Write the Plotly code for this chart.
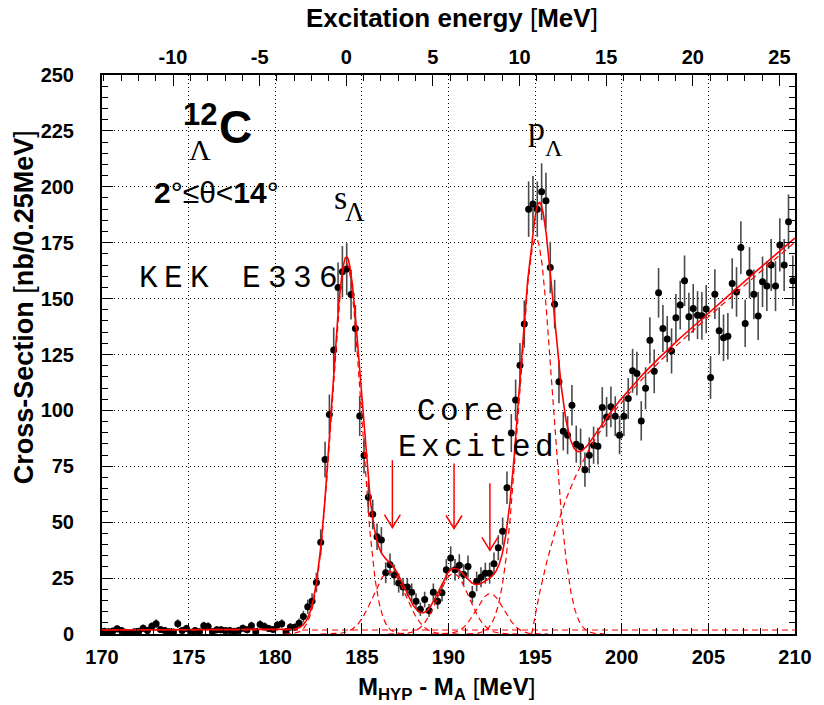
import numpy as np
import plotly.graph_objects as go

# ---------------- data ----------------
BIN_CENTERS = [
    170.125, 170.375, 170.625, 170.875, 171.125, 171.375, 171.625, 171.875,
    172.125, 172.375, 172.625, 172.875, 173.125, 173.375, 173.625, 173.875,
    174.125, 174.375, 174.625, 174.875, 175.125, 175.375, 175.625, 175.875,
    176.125, 176.375, 176.625, 176.875, 177.125, 177.375, 177.625, 177.875,
    178.125, 178.375, 178.625, 178.875, 179.125, 179.375, 179.625, 179.875,
    180.125, 180.375, 180.625, 180.875, 181.125, 181.375, 181.625, 181.875,
    182.125, 182.375, 182.625, 182.875, 183.125, 183.375, 183.625, 183.875,
    184.125, 184.375, 184.625, 184.875, 185.125, 185.375, 185.625, 185.875,
    186.125, 186.375, 186.625, 186.875, 187.125, 187.375, 187.625, 187.875,
    188.125, 188.375, 188.625, 188.875, 189.125, 189.375, 189.625, 189.875,
    190.125, 190.375, 190.625, 190.875, 191.125, 191.375, 191.625, 191.875,
    192.125, 192.375, 192.625, 192.875, 193.125, 193.375, 193.625, 193.875,
    194.125, 194.375, 194.625, 194.875, 195.125, 195.375, 195.625, 195.875,
    196.125, 196.375, 196.625, 196.875, 197.125, 197.375, 197.625, 197.875,
    198.125, 198.375, 198.625, 198.875, 199.125, 199.375, 199.625, 199.875,
    200.125, 200.375, 200.625, 200.875, 201.125, 201.375, 201.625, 201.875,
    202.125, 202.375, 202.625, 202.875, 203.125, 203.375, 203.625, 203.875,
    204.125, 204.375, 204.625, 204.875, 205.125, 205.375, 205.625, 205.875,
    206.125, 206.375, 206.625, 206.875, 207.125, 207.375, 207.625, 207.875,
    208.125, 208.375, 208.625, 208.875, 209.125, 209.375, 209.625, 209.875,
]
CROSS_SECTION = [
    1.2, 1.0, 1.3, 2.3, 1.6, 0.8, 0.5, 1.0,
    1.2, 2.6, 1.6, 3.5, 4.6, 2.0, 1.6, 1.0,
    0.9, 4.6, 1.6, 2.5, 0.8, 1.6, 1.0, 3.7,
    3.4, 1.0, 1.9, 1.9, 1.6, 1.6, 1.2, 1.6,
    2.6, 1.9, 3.7, 1.0, 4.3, 3.4, 2.5, 2.0,
    4.0, 4.6, 1.0, 3.1, 3.0, 4.8, 7.8, 12.2,
    14.7, 23.0, 41.0, 78.0, 98.2, 127.0, 155.0, 162.0,
    163.2, 151.8, 136.6, 97.5, 79.8, 61.2, 53.5, 43.5,
    42.0, 27.4, 31.0, 26.4, 22.8, 21.0, 21.0, 18.7,
    14.7, 11.1, 15.4, 10.5, 18.7, 14.6, 18.4, 28.7,
    34.0, 28.7, 30.7, 26.6, 30.2, 17.7, 23.5, 25.4,
    27.2, 27.2, 31.4, 38.6, 46.0, 65.4, 89.9, 104.6,
    120.2, 138.6, 190.0, 192.3, 190.0, 197.8, 193.8, 163.9,
    147.5, 112.8, 90.7, 88.9, 102.3, 84.9, 83.7, 73.5,
    79.9, 84.4, 84.0, 101.3, 97.1, 101.6, 97.4, 88.9,
    97.4, 105.3, 117.7, 116.5, 95.3, 109.9, 131.4, 117.5,
    152.6, 136.6, 131.9, 126.6, 141.4, 147.1, 158.0, 141.9,
    145.6, 142.6, 142.3, 145.3, 114.7, 152.0, 135.6, 132.5,
    133.2, 156.8, 153.0, 172.8, 138.9, 161.6, 151.9, 142.2,
    157.5, 155.6, 165.0, 155.6, 174.0, 165.0, 184.4, 158.0,
]
ERRORS = [
    1.5, 1.5, 1.5, 1.6, 1.5, 1.4, 1.3, 1.5,
    1.5, 1.6, 1.5, 1.8, 2.0, 1.5, 1.5, 1.5,
    1.4, 2.0, 1.5, 1.6, 1.4, 1.5, 1.5, 1.8,
    1.8, 1.5, 1.6, 1.6, 1.5, 1.5, 1.5, 1.5,
    1.6, 1.6, 1.8, 1.5, 1.9, 1.8, 1.6, 1.6,
    1.9, 2.0, 1.5, 1.7, 1.7, 2.1, 2.6, 3.2,
    3.5, 4.4, 5.8, 8.0, 8.9, 10.1, 11.2, 11.5,
    11.6, 11.1, 10.5, 8.9, 8.0, 7.0, 6.6, 5.9,
    5.8, 4.7, 5.0, 4.6, 4.3, 4.1, 4.1, 3.9,
    3.5, 3.0, 3.5, 2.9, 3.9, 3.4, 3.9, 4.8,
    5.2, 4.8, 5.0, 4.6, 4.9, 3.8, 4.4, 4.5,
    4.7, 4.7, 5.0, 5.6, 6.1, 7.3, 8.5, 9.2,
    9.9, 10.6, 12.4, 12.5, 12.4, 12.7, 12.5, 11.5,
    10.9, 9.6, 8.6, 8.5, 9.1, 8.3, 8.2, 7.7,
    8.0, 8.3, 8.2, 9.1, 8.9, 9.1, 8.9, 8.5,
    8.9, 9.2, 9.8, 9.7, 8.8, 9.4, 10.3, 9.8,
    11.1, 10.5, 10.3, 10.1, 10.7, 10.9, 11.3, 10.7,
    10.9, 10.7, 10.7, 10.8, 9.6, 11.1, 10.5, 10.4,
    10.4, 11.3, 11.1, 11.8, 10.6, 11.4, 11.1, 10.7,
    11.3, 11.2, 11.6, 11.2, 11.9, 11.6, 12.2, 11.3,
]

# fit components
PEAK_MU = [184.10, 186.60, 190.28, 192.40, 195.05]
PEAK_SIGMA = [0.85, 0.95, 0.90, 0.80, 0.95]
PEAK_AMP = [166.0, 28.0, 27.0, 18.0, 177.0]
BASELINE = 1.8
QF_START, QF_STEP, QF_TAU, QF_SLOPE = 194.8, 75.0, 2.0, 6.6

# axis ticks
X_RANGE = [170, 210]
Y_RANGE = [0, 250]
X_TICKS = [170, 175, 180, 185, 190, 195, 200, 205, 210]
Y_TICKS = [0, 25, 50, 75, 100, 125, 150, 175, 200, 225, 250]
EXC_OFFSET = 184.1
TOP_TICKS = [-10, -5, 0, 5, 10, 15, 20, 25]
TOP_LABELS = ["-10", "-5", "0", "5", "10", "15", "20", "25"]

# arrows marking core-excited states
ARROW_X = [186.76, 190.32, 192.39]
ARROW_TOP = [77.7, 76.3, 67.4]
ARROW_TIP = [47.6, 47.2, 37.4]

RED = "#ff0000"
FONT = "Liberation Sans"
SERIF = "Liberation Serif"
MONO = "Liberation Mono"

fig = go.Figure()

# data with error bars
fig.add_trace(go.Scatter(
    x=BIN_CENTERS, y=CROSS_SECTION, mode="markers",
    marker=dict(color="black", size=7),
    error_y=dict(type="data", array=ERRORS, color="#4a4a4a", thickness=1.6, width=0),
    showlegend=False, hoverinfo="skip"))

# fit curves
xf = np.linspace(X_RANGE[0], X_RANGE[1], 4001)


def gauss(x, mu, s, a):
    return a * np.exp(-0.5 * ((x - mu) / s) ** 2)


def qf(x):
    d = np.clip(x - QF_START, 0, None)
    return QF_STEP * (1 - np.exp(-d / QF_TAU)) + QF_SLOPE * d


dash = "6px,4px"
for mu, s, a in zip(PEAK_MU, PEAK_SIGMA, PEAK_AMP):
    m = (xf > mu - 4.2 * s) & (xf < mu + 4.2 * s)
    fig.add_trace(go.Scatter(x=xf[m], y=gauss(xf[m], mu, s, a), mode="lines",
                             line=dict(color=RED, width=1.2, dash=dash),
                             showlegend=False, hoverinfo="skip"))
mq = xf >= QF_START
fig.add_trace(go.Scatter(x=xf[mq], y=qf(xf[mq]), mode="lines",
                         line=dict(color=RED, width=1.2, dash=dash),
                         showlegend=False, hoverinfo="skip"))
fig.add_trace(go.Scatter(x=[X_RANGE[0], X_RANGE[1]], y=[BASELINE, BASELINE], mode="lines",
                         line=dict(color=RED, width=1.2, dash=dash),
                         showlegend=False, hoverinfo="skip"))

total = BASELINE + qf(xf)
for mu, s, a in zip(PEAK_MU, PEAK_SIGMA, PEAK_AMP):
    total = total + gauss(xf, mu, s, a)
fig.add_trace(go.Scatter(x=xf, y=total, mode="lines",
                         line=dict(color=RED, width=1.6),
                         showlegend=False, hoverinfo="skip"))

# dummy trace for the top axis
fig.add_trace(go.Scatter(x=[TOP_TICKS[0]], y=[None], xaxis="x2", mode="markers",
                         showlegend=False, hoverinfo="skip"))

# arrows
shapes = []
for xa, yt, yb in zip(ARROW_X, ARROW_TOP, ARROW_TIP):
    shapes.append(dict(type="line", xref="x", yref="y", x0=xa, x1=xa, y0=yt, y1=yb,
                       line=dict(color=RED, width=1.5)))
    shapes.append(dict(type="path", xref="x", yref="y",
                       path=f"M {xa-0.46},{yb+5.8} L {xa},{yb} L {xa+0.46},{yb+5.8}",
                       line=dict(color=RED, width=1.5)))

ann = []


def add_text(x, y, text, size, family=FONT, xref="x", yref="y", angle=0):
    ann.append(dict(x=x, y=y, xref=xref, yref=yref, text=text, showarrow=False,
                    textangle=angle, xanchor="center", yanchor="middle",
                    font=dict(family=family, size=size, color="black")))


# labels
add_text(175.63, 232.2, "<b>12</b>", 31)
add_text(177.73, 226.6, "<b>C</b>", 46)
add_text(175.63, 216.5, "Λ", 30, family=SERIF)
add_text(176.63, 197.5, "<b>2</b>°≤θ&lt;<b>14</b>°", 30)
add_text(183.75, 195.2, "s", 34, family=SERIF)
add_text(184.58, 188.8, "Λ", 27, family=SERIF)
add_text(195.07, 226.0, "p", 34, family=SERIF)
add_text(196.1, 217.4, "Λ", 24, family=SERIF)

KEK_TEXT, KEK_X0, KEK_PITCH, KEK_Y = "KEK E336", 172.66, 1.49, 159.2
CORE_TEXT, CORE_X0, CORE_Y = "Core", 188.71, 99.6
EXC_TEXT, EXC_X0, EXC_Y = "Excited", 187.62, 83.6
MONO_PITCH = 1.32
for i, ch in enumerate(KEK_TEXT):
    if ch != " ":
        add_text(KEK_X0 + i * KEK_PITCH, KEK_Y, ch, 31, family=MONO)
for i, ch in enumerate(CORE_TEXT):
    add_text(CORE_X0 + i * MONO_PITCH, CORE_Y, ch, 31, family=MONO)
for i, ch in enumerate(EXC_TEXT):
    add_text(EXC_X0 + i * MONO_PITCH, EXC_Y, ch, 31, family=MONO)

# axis titles
add_text(0.505, 1.102, "<b>Excitation energy </b>[<b>MeV</b>]", 26, xref="paper", yref="paper")
add_text(0.497, -0.098, "<b>M<sub>HYP</sub> - M<sub>A</sub> </b>[<b>MeV</b>]", 24,
         xref="paper", yref="paper")
add_text(-0.112, 0.585, "<b>Cross-Section </b>[<b>nb/0.25MeV</b>]", 27,
         xref="paper", yref="paper", angle=-90)

tickfont = dict(family=FONT, size=20, color="black")
grid = dict(showgrid=True, gridcolor="black", gridwidth=1, griddash="1px,3px")


def bold(vals):
    return [f"<b>{v}</b>" for v in vals]


fig.update_layout(
    width=824, height=705,
    margin=dict(l=102, r=25, t=75, b=71),
    paper_bgcolor="white", plot_bgcolor="white",
    shapes=shapes, annotations=ann,
    xaxis=dict(range=X_RANGE, tickvals=X_TICKS, ticktext=bold(X_TICKS),
               ticks="inside", ticklen=11,
               tickwidth=1, tickcolor="black", showline=True, linecolor="black",
               linewidth=2, mirror=True, zeroline=False, tickfont=tickfont,
               ticklabelstandoff=4,
               minor=dict(dtick=1, ticks="inside", ticklen=6, tickcolor="black"),
               **grid),
    xaxis2=dict(range=[X_RANGE[0] - EXC_OFFSET, X_RANGE[1] - EXC_OFFSET],
                overlaying="x", side="top", anchor="y",
                tickvals=TOP_TICKS, ticktext=bold(TOP_LABELS), ticks="inside", ticklen=11,
                tickcolor="black", showgrid=False, zeroline=False, tickfont=tickfont,
                ticklabelstandoff=6,
                minor=dict(dtick=1, ticks="inside", ticklen=6, tickcolor="black")),
    yaxis=dict(range=Y_RANGE, tickvals=Y_TICKS, ticktext=bold(Y_TICKS),
               ticks="inside", ticklen=11,
               tickwidth=1, tickcolor="black", showline=True, linecolor="black",
               linewidth=2, mirror="ticks", zeroline=False, tickfont=tickfont,
               ticklabelstandoff=22,
               minor=dict(dtick=5, ticks="inside", ticklen=6, tickcolor="black"),
               **grid),
)

fig.write_html("out.html")
